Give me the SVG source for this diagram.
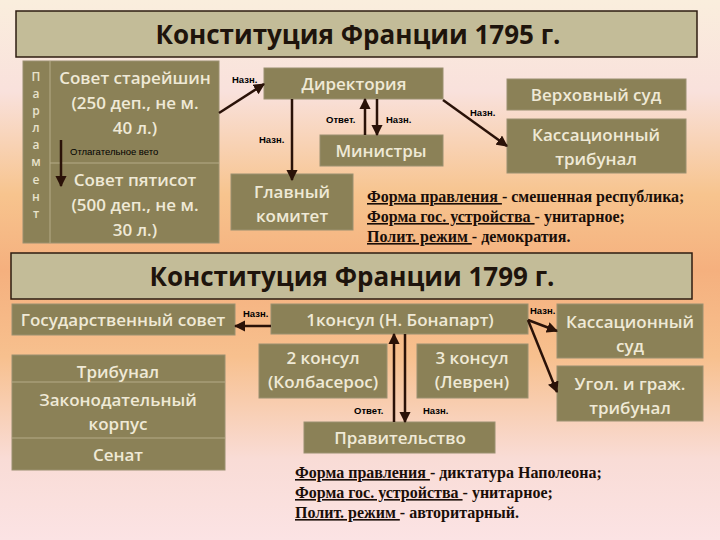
<svg xmlns="http://www.w3.org/2000/svg" width="720" height="540" viewBox="0 0 720 540">
<defs>
<linearGradient id="bg" x1="0" y1="0" x2="0" y2="1">
<stop offset="0" stop-color="#faeedd"/>
<stop offset="0.17" stop-color="#f9e1dc"/>
<stop offset="0.36" stop-color="#f7c48e"/>
<stop offset="0.5" stop-color="#f5b07e"/>
<stop offset="0.66" stop-color="#f7c08e"/>
<stop offset="0.85" stop-color="#f9dcd6"/>
<stop offset="1" stop-color="#fbe3e4"/>
</linearGradient>
<marker id="ah" viewBox="0 0 10 10" refX="9" refY="5" markerWidth="4.5" markerHeight="4.5" orient="auto">
<path d="M0,0 L10,5 L0,10 z" fill="#2a1208"/>
</marker>
</defs>
<style>
.box{fill:#8b8157;stroke:#9a9070;stroke-width:1}
.tbox{fill:#c3bc98;stroke:#2e1c10;stroke-width:1.5}
.bt{font-family:"Open Sans","Noto Sans",sans-serif;font-size:17px;font-weight:600;fill:#efe9d6;text-anchor:middle}
.title{font-family:"Open Sans","Noto Sans",sans-serif;font-weight:bold;font-size:26px;fill:#1e140c;text-anchor:middle}
.lbl{font-family:"Liberation Sans",Arial,sans-serif;font-size:9.5px;font-weight:bold;fill:#000}
.vl{font-family:"Open Sans","Noto Sans",sans-serif;font-size:12px;font-weight:600;fill:#e8e2cc;text-anchor:middle}
.ft{font-family:"Liberation Serif","Times New Roman",serif;font-weight:bold;font-size:16px;fill:#1a0e08}
.u{text-decoration:underline}
.con{stroke:#2a1208;stroke-width:2.5;fill:none;marker-end:url(#ah)}
.div{stroke:#b5ab88;stroke-width:1}
</style>
<rect width="720" height="540" fill="url(#bg)"/>

<g id="title1795">
<rect class="tbox" x="16" y="11" width="681" height="46"/>
<text class="title" x="358" y="44">Конституция Франции 1795 г.</text>
</g>

<g id="parliament">
<rect class="box" x="23" y="61" width="196" height="182"/>
<line class="div" x1="50" y1="61" x2="50" y2="243"/>
<line class="div" x1="50" y1="163" x2="219" y2="163"/>
<text class="vl" x="36" y="81">П</text>
<text class="vl" x="36" y="98">а</text>
<text class="vl" x="36" y="115">р</text>
<text class="vl" x="36" y="132">л</text>
<text class="vl" x="36" y="149">а</text>
<text class="vl" x="36" y="166">м</text>
<text class="vl" x="36" y="184">е</text>
<text class="vl" x="36" y="201">н</text>
<text class="vl" x="36" y="218">т</text>
</g>

<g id="council-elders">
<text class="bt" x="135" y="84">Совет старейшин</text>
<text class="bt" x="135" y="109">(250 деп., не м.</text>
<text class="bt" x="135" y="134">40 л.)</text>
</g>

<g id="council-500">
<text class="bt" x="135" y="186">Совет пятисот</text>
<text class="bt" x="135" y="211">(500 деп., не м.</text>
<text class="bt" x="135" y="236">30 л.)</text>
</g>

<g id="directory">
<rect class="box" x="264" y="68" width="179" height="31"/>
<text class="bt" x="354" y="90">Директория</text>
</g>

<g id="ministers">
<rect class="box" x="320" y="135" width="123" height="31"/>
<text class="bt" x="381" y="157">Министры</text>
</g>

<g id="main-committee">
<rect class="box" x="231" y="174" width="122" height="56"/>
<text class="bt" x="292" y="198">Главный</text>
<text class="bt" x="292" y="222">комитет</text>
</g>

<g id="supreme-court">
<rect class="box" x="507" y="79" width="179" height="31"/>
<text class="bt" x="596" y="101">Верховный суд</text>
</g>

<g id="cassation-tribunal">
<rect class="box" x="507" y="119" width="179" height="54"/>
<text class="bt" x="596" y="141">Кассационный</text>
<text class="bt" x="596" y="165">трибунал</text>
</g>

<g id="summary1795">
<text class="ft" x="367" y="202"><tspan class="u">Форма правления </tspan>- смешенная республика;</text>
<text class="ft" x="367" y="222"><tspan class="u">Форма гос. устройства </tspan>- унитарное;</text>
<text class="ft" x="367" y="242"><tspan class="u">Полит. режим </tspan>- демократия.</text>
</g>

<g id="title1799">
<rect class="tbox" x="11" y="253" width="681" height="46"/>
<text class="title" x="352" y="286">Конституция Франции 1799 г.</text>
</g>

<g id="state-council">
<rect class="box" x="12" y="304" width="223" height="31"/>
<text class="bt" x="123" y="326">Государственный совет</text>
</g>

<g id="first-consul">
<rect class="box" x="271" y="304" width="257" height="30"/>
<text class="bt" x="400" y="326">1консул (Н. Бонапарт)</text>
</g>

<g id="second-consul">
<rect class="box" x="259" y="344" width="128" height="54"/>
<text class="bt" x="323" y="364">2 консул</text>
<text class="bt" x="323" y="388">(Колбасерос)</text>
</g>

<g id="third-consul">
<rect class="box" x="417" y="344" width="111" height="54"/>
<text class="bt" x="472" y="364">3 консул</text>
<text class="bt" x="472" y="388">(Леврен)</text>
</g>

<g id="government">
<rect class="box" x="304" y="422" width="191" height="31"/>
<text class="bt" x="400" y="444">Правительство</text>
</g>

<g id="legislature">
<rect class="box" x="12" y="355" width="213" height="115"/>
<line class="div" x1="12" y1="382" x2="225" y2="382"/>
<line class="div" x1="12" y1="438" x2="225" y2="438"/>
<text class="bt" x="118" y="378">Трибунал</text>
<text class="bt" x="118" y="406">Законодательный</text>
<text class="bt" x="118" y="430">корпус</text>
<text class="bt" x="118" y="461">Сенат</text>
</g>

<g id="cassation-court">
<rect class="box" x="557" y="304" width="146" height="54"/>
<text class="bt" x="630" y="328">Кассационный</text>
<text class="bt" x="630" y="352">суд</text>
</g>

<g id="criminal-civil-tribunal">
<rect class="box" x="557" y="366" width="146" height="55"/>
<text class="bt" x="630" y="390">Угол. и граж.</text>
<text class="bt" x="630" y="414">трибунал</text>
</g>

<g id="summary1799">
<text class="ft" x="295" y="478"><tspan class="u">Форма правления </tspan>- диктатура Наполеона;</text>
<text class="ft" x="295" y="498"><tspan class="u">Форма гос. устройства </tspan>- унитарное;</text>
<text class="ft" x="295" y="518"><tspan class="u">Полит. режим </tspan>- авторитарный.</text>
</g>

<g id="connectors">
<line class="con" x1="61" y1="140" x2="61" y2="186"/>
<text class="lbl" x="70" y="155" style="font-weight:normal">Отлагательное вето</text>
<line class="con" x1="219" y1="113" x2="264" y2="84"/>
<text class="lbl" x="232" y="83">Назн.</text>
<line class="con" x1="292" y1="99" x2="292" y2="180"/>
<text class="lbl" x="259" y="143">Назн.</text>
<line class="con" x1="365" y1="135" x2="365" y2="99"/>
<line class="con" x1="377" y1="99" x2="377" y2="135"/>
<text class="lbl" x="326" y="123">Ответ.</text>
<text class="lbl" x="386" y="123">Назн.</text>
<line class="con" x1="443" y1="100" x2="507" y2="146"/>
<text class="lbl" x="470" y="116">Назн.</text>
<line class="con" x1="271" y1="326" x2="235" y2="326"/>
<text class="lbl" x="243" y="317">Назн.</text>
<line class="con" x1="394" y1="422" x2="394" y2="334"/>
<line class="con" x1="405" y1="334" x2="405" y2="422"/>
<text class="lbl" x="354" y="414">Ответ.</text>
<text class="lbl" x="423" y="414">Назн.</text>
<line class="con" x1="528" y1="320" x2="557" y2="331"/>
<line class="con" x1="528" y1="320" x2="557" y2="392"/>
<text class="lbl" x="530" y="314">Назн.</text>
</g>
</svg>
